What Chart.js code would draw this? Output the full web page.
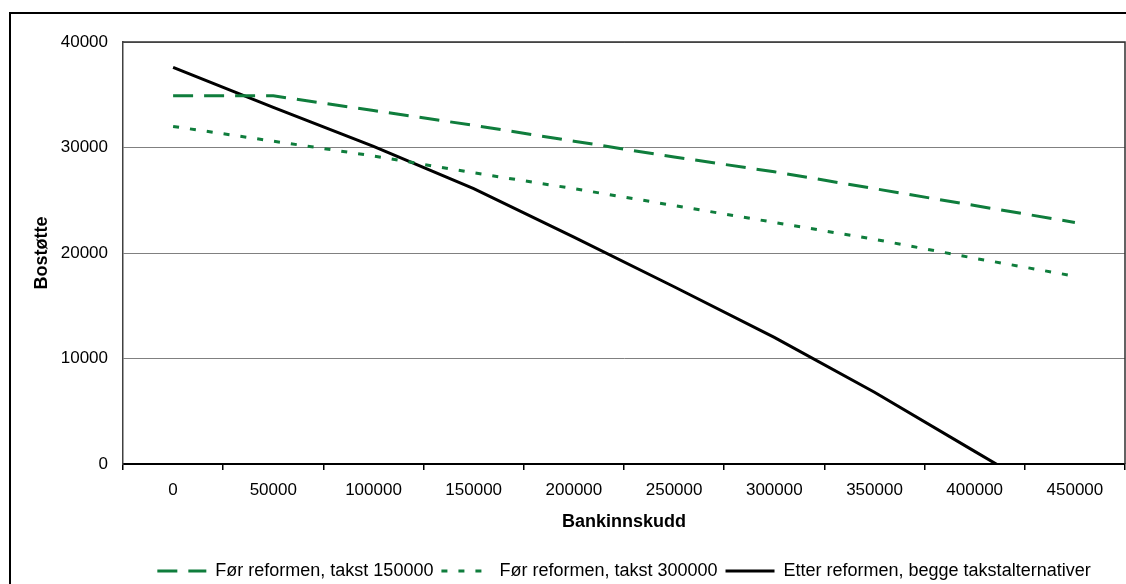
<!DOCTYPE html>
<html>
<head>
<meta charset="utf-8">
<script src="https://cdn.jsdelivr.net/npm/chart.js@4/dist/chart.umd.min.js"></script>
<style>
  html, body { margin: 0; padding: 0; background: #fff; overflow: hidden; }
  #wrap { position: relative; width: 1126px; height: 584px; overflow: hidden; }
  canvas { display: block; }
</style>
</head>
<body>
<div id="wrap"><canvas id="chart" width="1126" height="590"></canvas></div>
<script>
// Bankinnskudd (x categories) and Bostøtte values
const categories = ['0', '50000', '100000', '150000', '200000', '250000', '300000', '350000', '400000', '450000'];
const before150 = [34900, 34900, 33500, 32100, 30600, 29100, 27700, 26100, 24500, 22900];
const before300 = [32000, 30600, 29200, 27600, 26100, 24500, 22900, 21300, 19500, 17800];
const afterReform = [37600, 33800, 30100, 26100, 21500, 16800, 12000, 6800, 1200, -4400];

const green = '#0f7d3c';
const fontFamily = "'Liberation Sans', Arial, sans-serif";

// outer chart frame + top/right border of the plot area
const frames = {
    id: 'frames',
    beforeDraw(chart) {
        const ctx = chart.ctx;
        ctx.save();
        ctx.strokeStyle = '#000';
        ctx.lineWidth = 2;
        ctx.strokeRect(10, 13, 1300, 800);
        ctx.restore();
    },
    beforeDatasetsDraw(chart) {
        const { ctx, chartArea: a } = chart;
        ctx.save();
        ctx.strokeStyle = '#303030';
        ctx.lineWidth = 1.5;
        ctx.beginPath();
        ctx.moveTo(a.left, a.top);
        ctx.lineTo(a.right, a.top);
        ctx.lineTo(a.right, a.bottom);
        ctx.stroke();
        ctx.restore();
    }
};

new Chart(document.getElementById('chart').getContext('2d'), {
    type: 'line',
    data: {
        labels: categories,
        datasets: [{
            label: 'Før reformen, takst 150000',
            data: before150,
            borderColor: green,
            backgroundColor: green,
            borderWidth: 3,
            borderDash: [20, 11],
            pointRadius: 0,
            tension: 0
        }, {
            label: 'Før reformen, takst 300000',
            data: before300,
            borderColor: green,
            backgroundColor: green,
            borderWidth: 3,
            borderDash: [6, 11],
            pointRadius: 0,
            tension: 0
        }, {
            label: 'Etter reformen, begge takstalternativer',
            data: afterReform,
            borderColor: '#000',
            backgroundColor: '#000',
            borderWidth: 3,
            pointRadius: 0,
            tension: 0
        }]
    },
    options: {
        responsive: false,
        animation: false,
        devicePixelRatio: 1,
        layout: { padding: { top: 42, right: 1, left: 0, bottom: 0 } },
        plugins: {
            legend: {
                position: 'bottom',
                fullSize: false,
                labels: {
                    usePointStyle: true,
                    pointStyle: 'line',
                    pointStyleWidth: 49,
                    boxHeight: 18,
                    padding: 8,
                    color: '#000',
                    font: { family: fontFamily, size: 18 },
                    generateLabels(chart) {
                        const items = Chart.defaults.plugins.legend.labels.generateLabels(chart);
                        items.forEach(item => {
                            const ds = chart.data.datasets[item.datasetIndex];
                            item.lineDash = ds.borderDash || [];
                            item.strokeStyle = ds.borderColor;
                            item.lineWidth = ds.borderWidth;
                        });
                        return items;
                    }
                }
            },
            tooltip: { enabled: false }
        },
        scales: {
            x: {
                type: 'category',
                offset: true,
                afterFit: (s) => { s.height = 90; },
                grid: {
                    offset: true,
                    drawOnChartArea: false,
                    drawTicks: true,
                    tickLength: 6,
                    color: '#000',
                    lineWidth: 1.5
                },
                border: { display: true, color: '#000', width: 2 },
                ticks: {
                    color: '#000',
                    padding: 10,
                    maxRotation: 0,
                    autoSkip: false,
                    font: { family: fontFamily, size: 17 }
                },
                title: {
                    display: true,
                    text: 'Bankinnskudd',
                    color: '#000',
                    padding: { top: 0, bottom: 21 },
                    font: { family: fontFamily, size: 18, weight: 'bold' }
                }
            },
            y: {
                min: 0,
                max: 40000,
                afterFit: (s) => { s.width = 123; },
                grid: { color: '#808080', lineWidth: 1, drawTicks: false },
                border: { display: true, color: '#404040', width: 1.5 },
                ticks: {
                    stepSize: 10000,
                    color: '#000',
                    padding: 15,
                    font: { family: fontFamily, size: 17 },
                    callback: (v) => String(v)
                },
                title: {
                    display: true,
                    text: 'Bostøtte',
                    color: '#000',
                    padding: { top: 31, bottom: 0 },
                    font: { family: fontFamily, size: 18, weight: 'bold' }
                }
            }
        }
    },
    plugins: [frames]
});
</script>
</body>
</html>
